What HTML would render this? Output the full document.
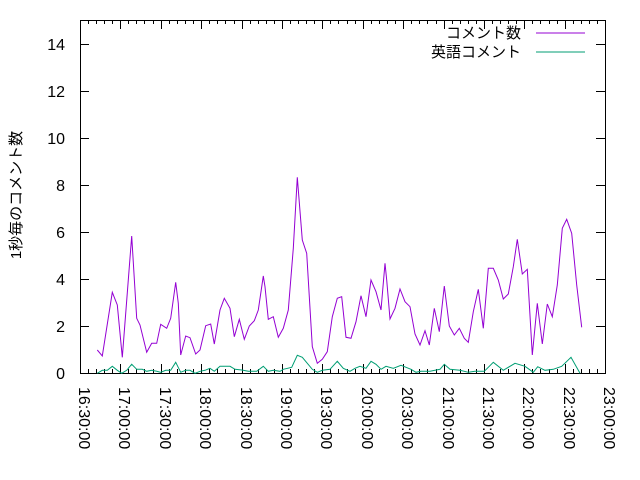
<!DOCTYPE html>
<html><head><meta charset="utf-8"><style>html,body{margin:0;padding:0;background:#fff}svg{display:block}text{font-family:"Liberation Sans","Noto Sans CJK JP",sans-serif;fill:#000}</style></head><body>
<svg width="640" height="480" xmlns="http://www.w3.org/2000/svg">
<rect width="640" height="480" fill="#fff"/>
<g stroke="#000" stroke-width="1" fill="none" shape-rendering="crispEdges">
<rect x="80.5" y="20.5" width="525" height="353"/>
<path d="M80 373.5h9M605 373.5h-9M80 326.5h9M605 326.5h-9M80 279.5h9M605 279.5h-9M80 232.5h9M605 232.5h-9M80 185.5h9M605 185.5h-9M80 138.5h9M605 138.5h-9M80 91.5h9M605 91.5h-9M80 44.5h9M605 44.5h-9"/>
<path id="tk" d="
M80.5 373v-9M120.5 373v-9M161.5 373v-9M201.5 373v-9M242.5 373v-9M282.5 373v-9M322.5 373v-9M363.5 373v-9M403.5 373v-9M444.5 373v-9M484.5 373v-9M524.5 373v-9M565.5 373v-9M605.5 373v-9
M80.5 20v9M120.5 20v9M161.5 20v9M201.5 20v9M242.5 20v9M282.5 20v9M322.5 20v9M363.5 20v9M403.5 20v9M444.5 20v9M484.5 20v9M524.5 20v9M565.5 20v9"/>
<path d="M88.5 373v-4M96.5 373v-4M104.5 373v-4M112.5 373v-4M128.5 373v-4M136.5 373v-4M144.5 373v-4M153.5 373v-4M169.5 373v-4M177.5 373v-4M185.5 373v-4M193.5 373v-4M209.5 373v-4M217.5 373v-4M225.5 373v-4M234.5 373v-4M250.5 373v-4M258.5 373v-4M266.5 373v-4M274.5 373v-4M290.5 373v-4M298.5 373v-4M306.5 373v-4M314.5 373v-4M330.5 373v-4M338.5 373v-4M347.5 373v-4M355.5 373v-4M371.5 373v-4M379.5 373v-4M387.5 373v-4M395.5 373v-4M411.5 373v-4M419.5 373v-4M427.5 373v-4M436.5 373v-4M452.5 373v-4M460.5 373v-4M468.5 373v-4M476.5 373v-4M492.5 373v-4M500.5 373v-4M508.5 373v-4M516.5 373v-4M532.5 373v-4M540.5 373v-4M549.5 373v-4M557.5 373v-4M573.5 373v-4M581.5 373v-4M589.5 373v-4M597.5 373v-4
M88.5 20v4M96.5 20v4M104.5 20v4M112.5 20v4M128.5 20v4M136.5 20v4M144.5 20v4M153.5 20v4M169.5 20v4M177.5 20v4M185.5 20v4M193.5 20v4M209.5 20v4M217.5 20v4M225.5 20v4M234.5 20v4M250.5 20v4M258.5 20v4M266.5 20v4M274.5 20v4M290.5 20v4M298.5 20v4M306.5 20v4M314.5 20v4M330.5 20v4M338.5 20v4M347.5 20v4M355.5 20v4M371.5 20v4M379.5 20v4M387.5 20v4M395.5 20v4M411.5 20v4M419.5 20v4M427.5 20v4M436.5 20v4M452.5 20v4M460.5 20v4M468.5 20v4M476.5 20v4M492.5 20v4M500.5 20v4M508.5 20v4M516.5 20v4M532.5 20v4M540.5 20v4M549.5 20v4M557.5 20v4M573.5 20v4M581.5 20v4M589.5 20v4M597.5 20v4"/>
</g>
<g font-size="16" text-anchor="end">
<text x="65" y="379">0</text><text x="65" y="332">2</text><text x="65" y="285">4</text><text x="65" y="238">6</text><text x="65" y="191">8</text><text x="65" y="144">10</text><text x="65" y="97">12</text><text x="65" y="50">14</text>
</g>
<g font-size="16">
<text transform="translate(79,387) rotate(90)">16:30:00</text>
<text transform="translate(119,387) rotate(90)">17:00:00</text>
<text transform="translate(160,387) rotate(90)">17:30:00</text>
<text transform="translate(200,387) rotate(90)">18:00:00</text>
<text transform="translate(241,387) rotate(90)">18:30:00</text>
<text transform="translate(281,387) rotate(90)">19:00:00</text>
<text transform="translate(321,387) rotate(90)">19:30:00</text>
<text transform="translate(362,387) rotate(90)">20:00:00</text>
<text transform="translate(402,387) rotate(90)">20:30:00</text>
<text transform="translate(443,387) rotate(90)">21:00:00</text>
<text transform="translate(483,387) rotate(90)">21:30:00</text>
<text transform="translate(523,387) rotate(90)">22:00:00</text>
<text transform="translate(564,387) rotate(90)">22:30:00</text>
<text transform="translate(604,387) rotate(90)">23:00:00</text>
</g>
<text font-size="15" text-anchor="middle" transform="translate(21,195) rotate(-90)">1秒毎のコメント数</text>
<g font-size="15" text-anchor="end"><text x="521" y="38">コメント数</text><text x="521" y="57">英語コメント</text></g>
<path d="M536 33h49" stroke="#9400d3" stroke-width="1"/>
<path d="M536 52h49" stroke="#009e73" stroke-width="1"/>
<polyline fill="none" stroke="#9400d3" stroke-width="1" points="97.3,350 102.3,356 112.3,292.3 117.3,305 122.3,357.3 131.7,236 136.7,318.3 140,325 146.7,352.3 151.7,343.3 156.7,343.3 160.7,324.3 166.7,328.3 170.7,318.3 175.7,282.3 178.3,303.3 180.7,355 185.7,336 190,337.7 195.7,354 200,350 205.7,325.7 210.7,324 214.3,344 220,310 224.3,298.3 230,308.3 234.3,336.7 239.3,319.3 244.3,339.3 249.3,326 254.3,320.7 258.3,310 263.3,276 265,286.7 268.3,319.3 273.3,316.7 278.3,337.3 283.3,328.3 288.3,310 293.3,248.3 297.3,177.3 302.3,240 306.7,253.3 312.3,346.7 317.3,363.3 322.3,359.3 327.3,351.7 332.3,316.7 337.3,298.3 341.7,296.7 346,337.3 351,338.3 356,321.7 361,295.7 366,316.7 371,280 376,291.7 381,310 385,263.3 386.7,280 390,319 395,308.3 400,289 405,301.7 410,306.7 415,334 420,345 425,330.7 429.3,345 434.3,308.3 439.3,331.7 444.3,286 449.3,326 454.3,335 459.3,328.3 464.3,338.3 468.3,342.3 473.3,311.7 478.3,289.3 483.3,328.3 488.3,268.3 493.3,268.3 498.3,280 503.3,299 508.3,294 513.3,266.7 517.3,239.3 522.3,274 527.3,269.3 532.3,355 537.3,303.3 542.3,344 547.3,304 552.3,316.7 557.3,285 562.3,228.3 566.7,219.3 571.7,233.3 576.7,285 581.7,327.3"/>
<polyline fill="none" stroke="#009e73" stroke-width="1" points="97.3,373.3 102.3,370.3 107.3,370.3 112.3,366.3 117.3,370.3 121.7,373.3 126.7,370.3 131.7,364.3 136.7,369.3 142.3,369.3 146.7,371.3 151.7,370.3 156.7,371.3 160.7,372.3 165.7,370.3 170.7,370.3 175.7,362.3 180.7,372.3 185.7,370.3 190,370.3 195,373.3 200,371.3 205,370.3 210,368.3 214.3,371.3 220,366.3 230,366.3 235,369.3 241.7,370 248.3,371.3 256.7,371.3 263.3,366.3 268.3,371.3 273.3,370.3 280,371.3 283.3,369.3 291.7,367.3 297.3,355.3 302.3,357.3 312.3,369.3 317.3,372.3 322.3,370.3 330,369.3 337.3,361.3 343.3,368.3 350,371.3 355,368.3 360,366.3 366,368.3 371,361.3 376,364.3 381,369.3 386,366.3 393.3,368.3 401,365.3 406,367.3 411,369.3 416,372.3 421,371.3 430,371.3 440,369.3 444.3,364.3 450,369.3 460,370.3 468.3,372.3 475,371.3 484.3,371.3 493.3,362.3 503.3,370.3 515,363.3 525,366.3 533.3,372.3 537.7,366.7 545,370.3 553.3,369.3 561.7,366.3 571,357.3 580,373.3"/>
</svg>
</body></html>
